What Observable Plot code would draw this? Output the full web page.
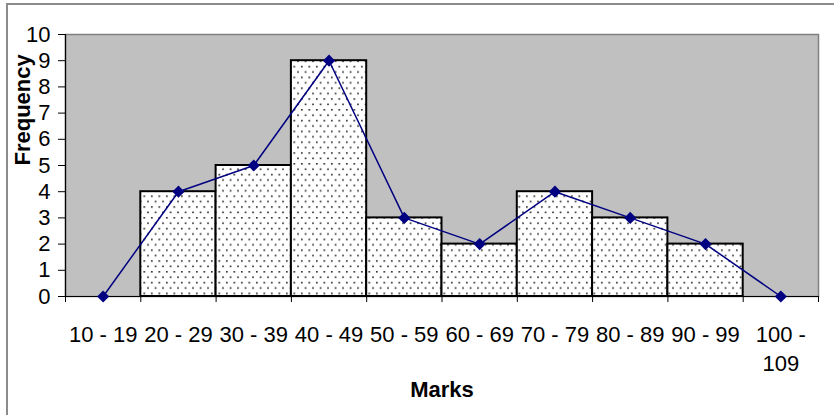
<!DOCTYPE html>
<html>
<head>
<meta charset="utf-8">
<script src="https://cdn.jsdelivr.net/npm/d3@7"></script>
<script src="https://cdn.jsdelivr.net/npm/@observablehq/plot@0.6"></script>
<style>
  html, body { margin: 0; padding: 0; background: #fff; }
  #wrap { position: relative; width: 834px; height: 415px; overflow: hidden; }
  #border { position: absolute; left: 6px; top: 3px; width: 840px; height: 420px;
            border-top: 2px solid #8c8c8c; border-left: 2px solid #8c8c8c; box-sizing: border-box; pointer-events: none; }
  #chart { position: absolute; left: 0; top: 0; }
</style>
</head>
<body>
<div id="wrap"><div id="chart"></div><div id="border"></div></div>
<script>
// Data
const categories = ["10 - 19", "20 - 29", "30 - 39", "40 - 49", "50 - 59", "60 - 69", "70 - 79", "80 - 89", "90 - 99", "100 - 109"];
const tickLabels = ["10 - 19", "20 - 29", "30 - 39", "40 - 49", "50 - 59", "60 - 69", "70 - 79", "80 - 89", "90 - 99", "100 -\n109"];
const frequency = [0, 4, 5, 9, 3, 2, 4, 3, 2, 0];
const yTicks = [0, 1, 2, 3, 4, 5, 6, 7, 8, 9, 10];

const rows = categories.map((c, i) => ({cat: c, i, label: tickLabels[i], freq: frequency[i]}));
const bars = rows.filter(d => d.freq > 0);
const boundaries = d3.range(0, categories.length + 1);

const patternDefs = () => {
  const defs = d3.create("svg:defs");
  const p = defs.append("pattern")
    .attr("id", "dots").attr("patternUnits", "userSpaceOnUse")
    .attr("width", 7.5).attr("height", 10.8);
  p.append("rect").attr("width", 7.5).attr("height", 10.8).attr("fill", "#fff");
  p.append("rect").attr("x", 1).attr("y", 1).attr("width", 1.6).attr("height", 1.6).attr("fill", "#222");
  p.append("rect").attr("x", 4.75).attr("y", 6.4).attr("width", 1.6).attr("height", 1.6).attr("fill", "#222");
  return defs.node();
};

const chart = Plot.plot({
  width: 834,
  height: 415,
  marginLeft: 65,
  marginRight: 16,
  marginTop: 34,
  marginBottom: 119,
  style: {fontFamily: "'Liberation Sans', Arial, sans-serif", fontSize: "22px", color: "#000", background: "transparent"},
  x: {type: "linear", domain: [0, categories.length], axis: null},
  y: {domain: [0, 10], axis: null},
  marks: [
    patternDefs,
    Plot.frame({fill: "#c0c0c0", stroke: "#808080", strokeWidth: 1.5}),
    Plot.rectY(bars, {x1: d => d.i, x2: d => d.i + 1, y: "freq", fill: "url(#dots)", stroke: "#000", strokeWidth: 2}),
    Plot.ruleX([0], {stroke: "#000", strokeWidth: 1.2}),
    Plot.ruleY([0], {stroke: "#000", strokeWidth: 1.2}),
    Plot.axisY({ticks: yTicks, tickSize: 7, tickPadding: 8, fontSize: 22, label: null, stroke: "#000"}),
    Plot.ruleX(boundaries, {x: d => d, y1: 0, y2: -0.23, stroke: "#000", strokeWidth: 1}),
    Plot.text(rows, {x: d => d.i + 0.5, y: 0, text: "label", dy: 24, lineAnchor: "top", lineHeight: 1.35, fontSize: 22, fill: "#000"}),
    Plot.line(rows, {x: d => d.i + 0.5, y: "freq", stroke: "#000080", strokeWidth: 1.5}),
    Plot.dot(rows, {x: d => d.i + 0.5, y: "freq", symbol: "diamond2", r: 5.5, fill: "#000080", stroke: "none"}),
    Plot.text(["Frequency"], {frameAnchor: "left", dx: -43, rotate: -90, fontWeight: "bold", fontSize: 22, fill: "#000"}),
    Plot.text(["Marks"], {frameAnchor: "bottom", dy: 100, fontWeight: "bold", fontSize: 22, fill: "#000"})
  ]
});
document.getElementById("chart").appendChild(chart);
</script>
</body>
</html>
